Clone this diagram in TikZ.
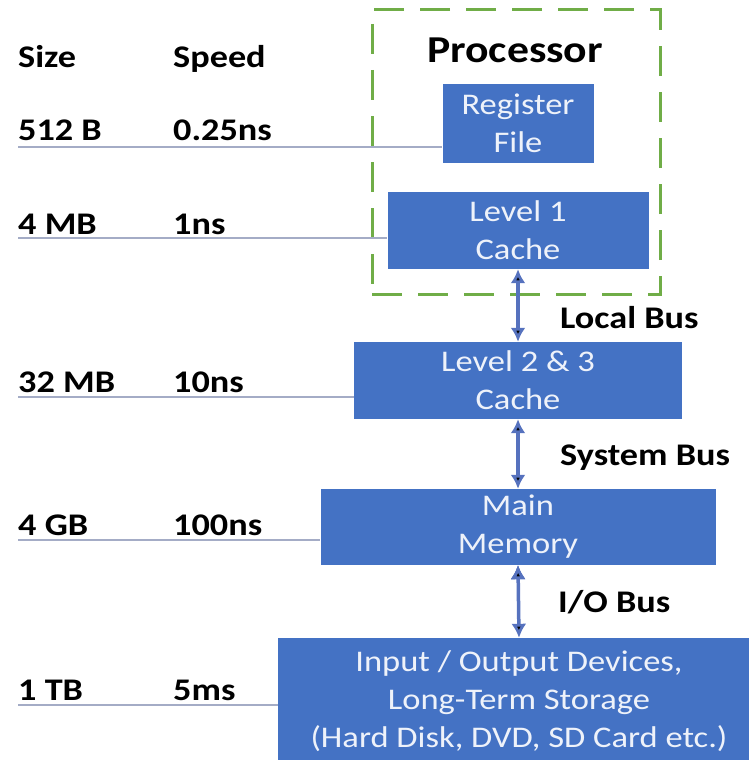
\documentclass[tikz,border=0pt]{standalone}
\usepackage{fontspec}
\setmainfont{Carlito}[FakeStretch=1.15]
\usetikzlibrary{positioning,arrows.meta}
\definecolor{boxblue}{HTML}{4472C4}
\definecolor{boxtext}{HTML}{EEF2FA}
\definecolor{busblue}{HTML}{5672BE}
\definecolor{levgray}{HTML}{A4ACC6}
\definecolor{procgreen}{HTML}{70AD47}

\begin{document}
\begin{tikzpicture}[x=1pt,y=-1pt,
	memblock/.style={fill=boxblue,text=boxtext,align=center,inner sep=0pt,font=\fontsize{30}{38}\selectfont},
	lbl/.style={anchor=base west,inner sep=0pt,font=\fontsize{31.5}{36}\selectfont\bfseries},
	level/.style={draw=levgray,line width=1.6pt},
	bus/.style={{Latex[length=14pt,width=15pt]}-{Latex[length=14pt,width=15pt]},draw=busblue,line width=3.5pt}]
	\useasboundingbox (0,0) rectangle (748,760);

	\node[draw=procgreen,line width=3pt,dash pattern=on 30pt off 16pt,minimum width=288,minimum height=284] (proc) at (516,152) {};
	\node[anchor=base,inner sep=0pt,font=\fontsize{38}{42}\selectfont\bfseries] (proclbl) at (515,63) {Processor};

	\node[memblock,minimum width=151,minimum height=79] (reg) at (518,123.5) {Register\\File};
	\node[memblock,minimum width=261,minimum height=77] (l1) at (518,230.5) {Level 1\\Cache};
	\node[memblock,minimum width=328,minimum height=77] (l23) at (518,380.5) {Level 2 \& 3\\Cache};
	\node[memblock,minimum width=395,minimum height=76] (mem) at (518,527) {Main\\Memory};
	\node[memblock,minimum width=482,minimum height=126] (io) at (519,701) {Input / Output Devices,\\Long-Term Storage\\(Hard Disk, DVD, SD Card etc.)};

	\node[lbl] (size) at (18,67) {Size};
	\node[lbl] (speed) at (173,67) {Speed};
	\node[lbl] (s1) at (18,140) {512 B};
	\node[lbl] (t1) at (173,140) {0.25ns};
	\node[lbl] (s2) at (18,234) {4 MB};
	\node[lbl] (t2) at (173,234) {1ns};
	\node[lbl] (s3) at (18,392) {32 MB};
	\node[lbl] (t3) at (173,392) {10ns};
	\node[lbl] (s4) at (18,535) {4 GB};
	\node[lbl] (t4) at (173,535) {100ns};
	\node[lbl] (s5) at (18,700) {1 TB};
	\node[lbl] (t5) at (173,700) {5ms};

	\coordinate (r1) at (18,147);
	\coordinate (r2) at (18,238);
	\coordinate (r3) at (18,397);
	\coordinate (r4) at (18,540);
	\coordinate (r5) at (18,705);
	\draw[level] (r1) -- (r1 -| reg.west);
	\draw[level] (r2) -- (r2 -| l1.west);
	\draw[level] (r3) -- (r3 -| l23.west);
	\draw[level] (r4) -- (r4 -| mem.west);
	\draw[level] (r5) -- (r5 -| io.west);

	\path[bus]
	(l1.south) edge (l23.north)
	(l23.south) edge (mem.north)
	(mem.south) edge (io.north);

	\node[lbl] (local) at (560,328) {Local Bus};
	\node[lbl] (system) at (560,465) {System Bus};
	\node[lbl] (iobus) at (558,612) {I/O Bus};
\end{tikzpicture}
\end{document}
